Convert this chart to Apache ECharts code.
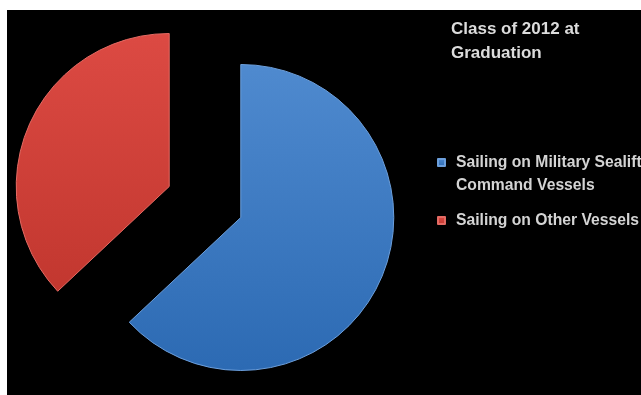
<!DOCTYPE html>
<html>
<head>
<meta charset="utf-8">
<script src="https://cdn.jsdelivr.net/npm/echarts@6/dist/echarts.min.js"></script>
<style>
  html, body { margin: 0; padding: 0; background: #ffffff; width: 641px; height: 395px; overflow: hidden; }
  #chart { position: absolute; left: 7px; top: 10px; width: 634px; height: 385px; background: #000000; }
</style>
</head>
<body>
<div id="chart"></div>
<script>
// Graduating class split by the kind of vessel each graduate sails on
const chartTitle = 'Class of 2012 at\nGraduation';
const categories = ['Sailing on Military Sealift\nCommand Vessels', 'Sailing on Other Vessels'];
const shares = [63, 37];

const fills = [
  { top: '#4f8acf', bottom: '#2c6ab3', edge: '#6c9fdc' },
  { top: '#dc4a43', bottom: '#c2372f', edge: '#e46a63' }
];

const LINE = 23;

const chart = echarts.init(document.getElementById('chart'), null, { renderer: 'canvas' });

chart.setOption({
  backgroundColor: '#000000',
  animation: false,
  title: {
    text: chartTitle,
    left: 444,
    top: 7,
    padding: 0,
    textStyle: {
      fontFamily: 'Liberation Sans',
      fontSize: 17,
      fontWeight: 'bold',
      color: '#dcdcdc',
      lineHeight: 24
    }
  },
  legend: {
    orient: 'vertical',
    left: 430,
    top: 118,
    padding: 0,
    icon: 'rect',
    itemWidth: 7,
    itemHeight: 7,
    itemGap: 12,
    selectedMode: false,
    // wrapped names get a leading empty line so the swatch sits beside the first line
    formatter: function (name) {
      return name.indexOf('\n') >= 0 ? '\n' + name : name;
    },
    textStyle: {
      fontFamily: 'Liberation Sans',
      fontSize: 15.7,
      fontWeight: 'bold',
      color: '#d4d4d4',
      lineHeight: LINE,
      padding: [0, 0, 0, 6]
    },
    data: categories
  },
  series: [{
    type: 'pie',
    center: [198, 192],
    radius: 153,
    startAngle: 90,
    clockwise: true,
    selectedMode: 'multiple',
    selectedOffset: 39,
    label: { show: false },
    labelLine: { show: false },
    emphasis: { disabled: true },
    data: categories.map(function (name, i) {
      return {
        name: name,
        value: shares[i],
        selected: true,
        itemStyle: {
          color: new echarts.graphic.LinearGradient(0, 0, 0, 1, [
            { offset: 0, color: fills[i].top },
            { offset: 1, color: fills[i].bottom }
          ]),
          borderColor: fills[i].edge,
          borderWidth: 1
        }
      };
    })
  }]
});
</script>
</body>
</html>
